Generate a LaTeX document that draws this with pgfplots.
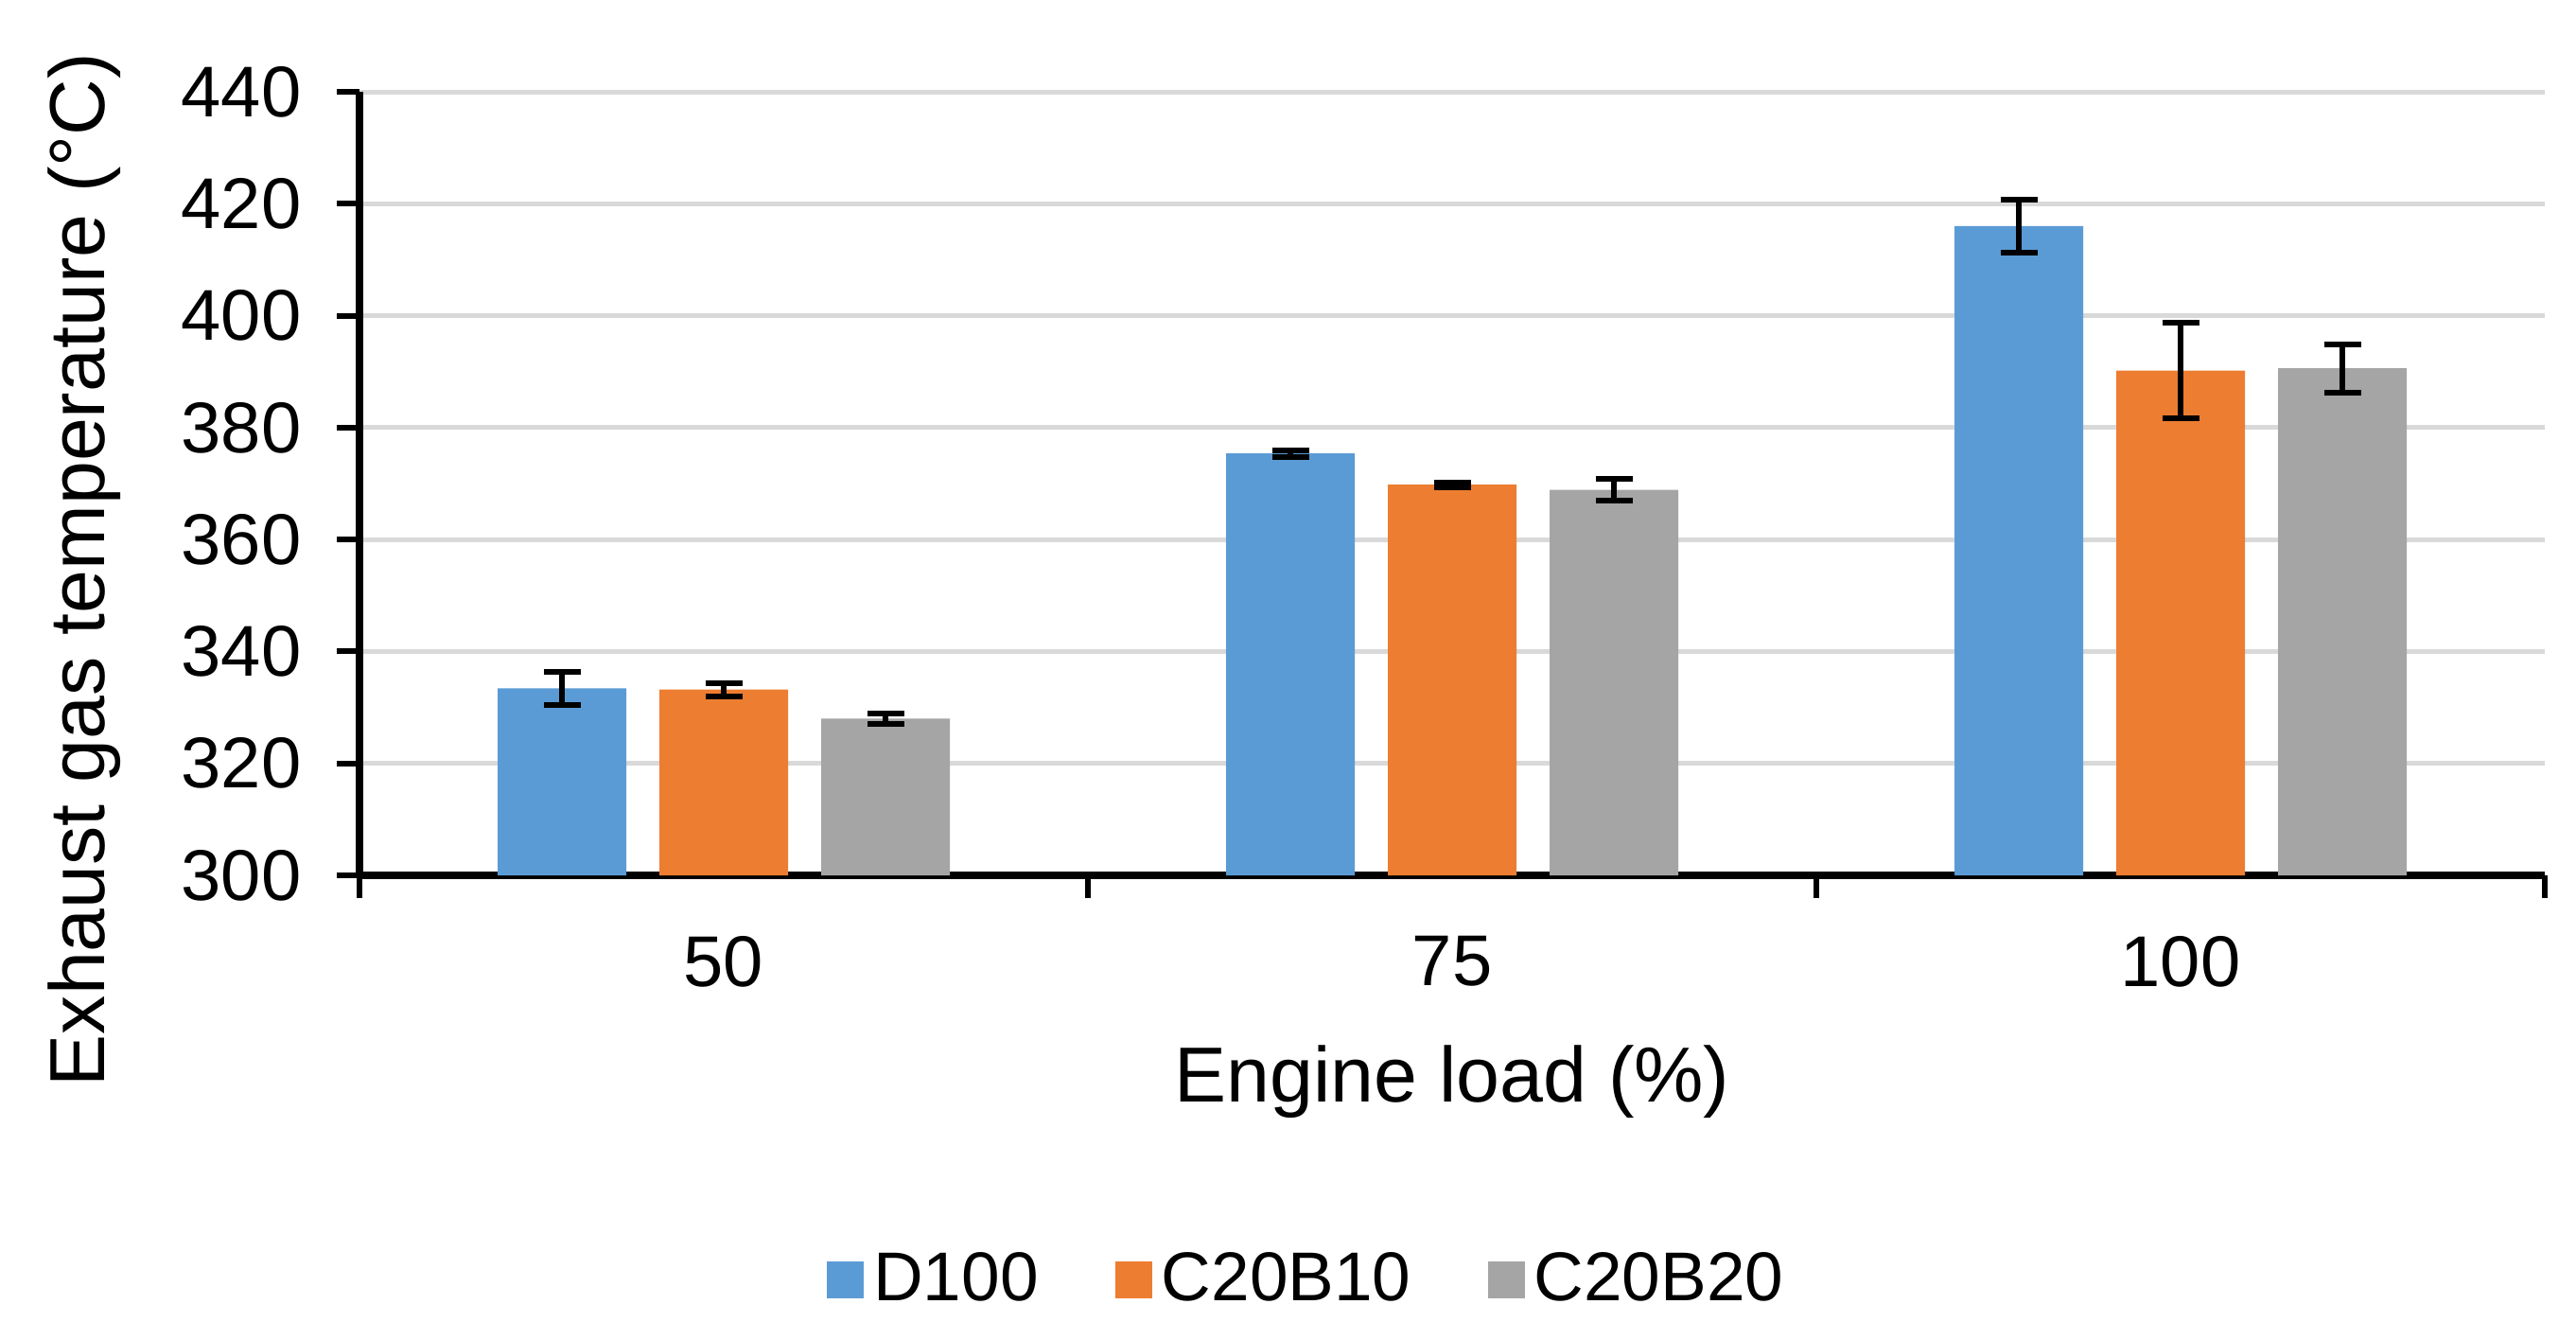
\documentclass[border=0pt]{standalone}
\usepackage{fontspec}
\setmainfont{Liberation Sans}
\usepackage{pgfplots}
\pgfplotsset{compat=1.18}
\usepackage{pgfplotstable}

\definecolor{cD}{RGB}{91,155,213}
\definecolor{cCa}{RGB}{237,125,49}
\definecolor{cCb}{RGB}{165,165,165}
\definecolor{gridc}{RGB}{217,217,217}

% x: 0=50%, 1=75%, 2=100% load
\pgfplotstableread{
x y e
0 333.4 2.9
1 375.4 0.6
2 416.0 4.8
}\dhundred
\pgfplotstableread{
x y e
0 333.2 1.2
1 369.8 0.4
2 390.2 8.5
}\ctwentyten
\pgfplotstableread{
x y e
0 328.0 1.0
1 368.9 1.9
2 390.6 4.3
}\ctwentytwenty

\pgfplotsset{
  errs/.style={
    draw=none,
    error bars/.cd, y dir=both, y explicit,
    error bar style={black, line width=1.2pt},
    error mark options={rotate=90, black, mark size=3.9pt, line width=1.2pt},
  },
}

\begin{document}
\begin{tikzpicture}
\begin{axis}[
  name=ax,
  scale only axis,
  width=462pt, height=165.6pt,
  ybar=7pt, bar width=27.2pt,
  xmin=-0.5, xmax=2.5,
  ymin=300, ymax=440,
  ytick distance=20,
  xtick={-0.5,0.5,1.5,2.5},
  xticklabels={50,75,100},
  x tick label as interval,
  axis x line*=bottom, axis y line*=left,
  axis line style={line width=1.5pt, black, -},
  ymajorgrids, grid style={gridc, line width=1pt},
  tick align=outside,
  major tick length=4.8pt,
  tick style={black, line width=1.2pt},
  /pgf/number format/assume math mode=true,
  tick label style={font=\fontsize{15.2}{18}\selectfont},
  yticklabel style={xshift=-4pt},
  xticklabel style={yshift=-4.5pt},
  xlabel={Engine load (\%)},
  ylabel={Exhaust gas temperature (°C)},
  label style={font=\fontsize{16.5}{19}\selectfont},
  xlabel style={at={(axis description cs:0.5,-0.263)}, anchor=center},
  ylabel style={at={(axis description cs:-0.126,0.39)}, anchor=center, rotate=0},
  legend style={at={(0.435,-0.516)}, anchor=center, draw=none,
    font=\fontsize{14.6}{17}\selectfont,
    /tikz/every even column/.append style={column sep=14.2pt}},
  legend columns=3,
  legend image code/.code={\fill[#1] (0pt,-3.9pt) rectangle (7.8pt,3.9pt);},
]
\addplot[fill=cD, errs] table[x=x, y=y, y error=e] {\dhundred};
\addplot[fill=cCa, errs] table[x=x, y=y, y error=e] {\ctwentyten};
\addplot[fill=cCb, errs] table[x=x, y=y, y error=e] {\ctwentytwenty};
\legend{D100, C20B10, C20B20}
\end{axis}
\pgfresetboundingbox
\path ([shift={(-76pt,-94.2pt)}]ax.south west) rectangle ([shift={(6.6pt,19.4pt)}]ax.north east);
\end{tikzpicture}
\end{document}
